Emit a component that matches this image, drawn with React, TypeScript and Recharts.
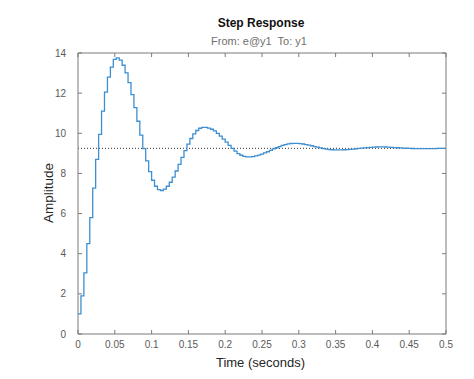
import { Line, LineChart, ReferenceLine, XAxis, YAxis } from "recharts"

// sampled step response (stairs), one value per sample
const sampleTime = 0.004
const amplitude = [
  1.0, 1.9, 3.05, 4.5, 5.8, 7.27, 8.7, 9.95, 11.1, 12.05, 12.8, 13.3, 13.68, 13.76,
  13.65, 13.39, 13.01, 12.52, 11.93, 11.28, 10.6, 9.91, 9.24, 8.63, 8.09, 7.66, 7.36, 7.19,
  7.15, 7.22, 7.36, 7.56, 7.82, 8.12, 8.45, 8.8, 9.14, 9.46, 9.74, 9.97, 10.14, 10.25, 10.29,
  10.29, 10.26, 10.2, 10.12, 10.0, 9.86, 9.71, 9.555, 9.4, 9.25, 9.11, 8.99, 8.905, 8.85, 8.82,
  8.82, 8.84, 8.87, 8.91, 8.96, 9.02, 9.08, 9.15, 9.22, 9.28, 9.34, 9.4, 9.44, 9.47, 9.49, 9.5,
  9.5, 9.485, 9.466, 9.44, 9.41, 9.38, 9.34, 9.31, 9.27, 9.24, 9.215, 9.19, 9.18, 9.17,
  9.17, 9.174, 9.18, 9.19, 9.2, 9.215, 9.23, 9.245, 9.26, 9.275, 9.29, 9.3, 9.31, 9.316, 9.32,
  9.32, 9.317, 9.31, 9.3, 9.29, 9.28, 9.272, 9.265, 9.255, 9.248, 9.242, 9.238, 9.236, 9.235, 9.235,
  9.235, 9.236, 9.238, 9.24, 9.244, 9.248, 9.252, 9.256,
]
const steadyState = 9.25
const timeTicks = [0, 0.05, 0.1, 0.15, 0.2, 0.25, 0.3, 0.35, 0.4, 0.45, 0.5]
const amplitudeTicks = [0, 2, 4, 6, 8, 10, 12, 14]
const timeDomain = [0, 0.5]
const amplitudeDomain = [0, 14]

const data = amplitude.map((value, i) => ({ time: Number((i * sampleTime).toFixed(3)), value }))

const font = '"Liberation Sans", Arial, Helvetica, sans-serif'
const axisColor = "#7a7a7a"
const tickTextColor = "#5a5a5a"

// plot box (matlab style box with inward ticks on all four sides)
const CHART_W = 474
const CHART_H = 379
const MARGIN = { top: 53, right: 28, left: 0, bottom: 0 }
const Y_AXIS_W = 78
const X_AXIS_H = 45
const PLOT_W = CHART_W - MARGIN.right - Y_AXIS_W
const PLOT_H = CHART_H - MARGIN.top - X_AXIS_H
const X_MARGIN = 7
const Y_MARGIN = 12
const TICK_LEN = 4

function BottomTick(props: any) {
  const { x, y, payload } = props
  const bottom = y - X_MARGIN
  const top = bottom - PLOT_H
  return (
    <g>
      <line x1={x} x2={x} y1={bottom} y2={bottom - TICK_LEN} stroke={axisColor} />
      <line x1={x} x2={x} y1={top} y2={top + TICK_LEN} stroke={axisColor} />
      <text x={x} y={y} dy="0.71em" textAnchor="middle" fontSize={10} fill={tickTextColor} fontFamily={font}>
        {payload.value}
      </text>
    </g>
  )
}

function LeftTick(props: any) {
  const { x, y, payload } = props
  const left = x + Y_MARGIN
  const right = left + PLOT_W
  return (
    <g>
      <line x1={left} x2={left + TICK_LEN} y1={y} y2={y} stroke={axisColor} />
      <line x1={right} x2={right - TICK_LEN} y1={y} y2={y} stroke={axisColor} />
      <text x={x} y={y} dy="0.355em" textAnchor="end" fontSize={10} fill={tickTextColor} fontFamily={font}>
        {payload.value}
      </text>
    </g>
  )
}

export default function App() {
  return (
    <div style={{ position: "absolute", left: 0, top: 0, width: CHART_W, height: CHART_H, background: "#fff", fontFamily: font }}>
      <LineChart width={CHART_W} height={CHART_H} data={data} margin={MARGIN}>
        <XAxis
          type="number"
          dataKey="time"
          domain={timeDomain}
          allowDataOverflow
          ticks={timeTicks}
          interval={0}
          height={X_AXIS_H}
          tickLine={false}
          tickSize={0}
          tickMargin={X_MARGIN}
          tick={<BottomTick />}
          axisLine={{ stroke: axisColor }}
        />
        <YAxis
          type="number"
          domain={amplitudeDomain}
          allowDataOverflow
          ticks={amplitudeTicks}
          interval={0}
          width={Y_AXIS_W}
          tickLine={false}
          tickSize={0}
          tickMargin={Y_MARGIN}
          tick={<LeftTick />}
          axisLine={{ stroke: axisColor }}
        />
        <ReferenceLine y={amplitudeDomain[1]} stroke={axisColor} />
        <ReferenceLine x={timeDomain[1]} stroke={axisColor} />
        <ReferenceLine y={steadyState} stroke="#333" strokeDasharray="1 2" strokeWidth={1} />
        <Line
          type="stepAfter"
          dataKey="value"
          stroke="#3d8fd1"
          strokeWidth={1.3}
          dot={false}
          isAnimationActive={false}
        />
      </LineChart>
      <div style={{ position: "absolute", left: 0, width: 522, top: 16, textAlign: "center", fontSize: 12, fontWeight: "bold", color: "#111" }}>
        Step Response
      </div>
      <div style={{ position: "absolute", left: 0, width: 518, top: 35, textAlign: "center", fontSize: 11, color: "#707070", whiteSpace: "pre" }}>
        {"From: e@y1  To: y1"}
      </div>
      <div style={{ position: "absolute", left: 0, width: 521, top: 355, textAlign: "center", fontSize: 13, color: "#262626" }}>
        Time (seconds)
      </div>
      <div
        style={{
          position: "absolute",
          left: 48,
          top: 193,
          transform: "translate(-50%, -50%) rotate(-90deg)",
          fontSize: 13.5,
          color: "#262626",
          whiteSpace: "nowrap",
        }}
      >
        Amplitude
      </div>
    </div>
  )
}
